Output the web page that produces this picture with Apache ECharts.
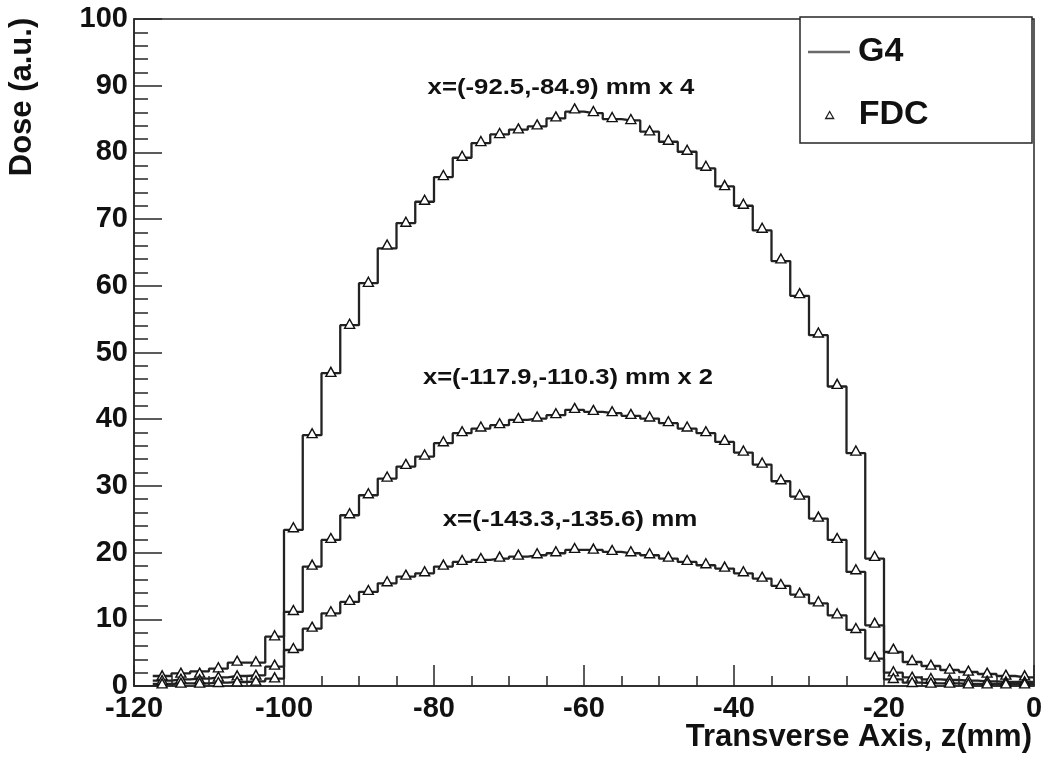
<!DOCTYPE html>
<html><head><meta charset="utf-8">
<script src="https://cdn.jsdelivr.net/npm/echarts@6/dist/echarts.min.js"></script>
<style>html,body{margin:0;padding:0;background:#fff}#c{width:1050px;height:761px}</style>
</head><body><div id="c"></div>
<script>
// bin centres (mm), bin width 2.5 mm
const zCenters = [-116.25,-113.75,-111.25,-108.75,-106.25,-103.75,-101.25,
  -98.75,-96.25,-93.75,-91.25,-88.75,-86.25,-83.75,-81.25,-78.75,-76.25,-73.75,-71.25,-68.75,-66.25,-63.75,-61.25,
  -58.75,-56.25,-53.75,-51.25,-48.75,-46.25,-43.75,-41.25,-38.75,-36.25,-33.75,-31.25,-28.75,-26.25,-23.75,-21.25,
  -18.75,-16.25,-13.75,-11.25,-8.75,-6.25,-3.75,-1.25];
const binWidth = 2.5;

// G4 (histogram lines)
const g4Top = [1.5,1.9,2.2,2.6,3.5,3.5,7.4,
  23.4,37.6,46.9,54.1,60.4,65.6,69.4,72.6,76.3,79.2,81.4,82.7,83.4,83.9,85.1,86.1,
  85.9,85.0,84.8,83.1,81.6,80.1,77.6,74.9,72.0,68.3,63.7,58.5,52.6,44.9,34.9,19.1,
  5.1,3.6,3.0,2.4,2.1,1.8,1.5,1.3];
const g4Mid = [0.8,1.0,1.1,1.3,1.5,1.6,2.9,
  11.1,17.9,21.9,25.6,28.6,31.1,32.9,34.4,36.4,37.9,38.6,39.1,39.9,40.1,40.6,41.4,
  41.1,40.9,40.5,40.1,39.4,38.6,37.9,36.6,35.0,33.2,30.7,28.4,25.1,21.9,17.1,9.1,
  2.0,1.3,1.0,0.9,0.8,0.7,0.6,0.6];
const g4Low = [0.3,0.4,0.4,0.5,0.6,0.7,1.1,
  5.4,8.6,10.9,12.6,14.1,15.4,16.4,16.9,17.9,18.6,18.9,19.1,19.4,19.6,19.9,20.4,
  20.4,20.1,19.9,19.6,19.1,18.6,18.1,17.6,16.9,16.1,15.0,13.7,12.4,10.6,8.4,4.1,
  1.0,0.5,0.4,0.4,0.3,0.3,0.3,0.3];

// FDC (open triangles)
const fdcTop = [1.6,2.0,2.0,2.8,3.8,3.7,7.6,
  23.8,37.9,47.1,54.3,60.6,66.2,69.6,72.9,76.6,79.5,81.7,82.9,83.6,84.2,85.4,86.6,
  86.2,85.3,85.0,83.3,81.9,80.4,78.0,75.1,72.3,68.7,64.1,58.9,53.0,45.3,35.3,19.5,
  5.6,3.9,3.2,2.6,2.3,2.0,1.7,1.6];
const fdcMid = [0.9,1.1,1.0,1.4,1.6,1.7,3.2,
  11.4,18.2,22.2,25.9,28.9,31.4,33.3,34.7,36.7,38.2,38.9,39.4,40.2,40.4,40.9,41.7,
  41.4,41.2,40.8,40.4,39.7,38.9,38.2,36.9,35.3,33.5,31.0,28.7,25.4,22.2,17.5,9.5,
  2.2,1.4,1.2,1.0,0.9,0.8,0.7,0.7];
const fdcLow = [0.4,0.5,0.5,0.6,0.7,0.8,1.3,
  5.7,8.9,11.2,12.9,14.4,15.7,16.7,17.2,18.2,18.9,19.2,19.4,19.7,19.9,20.2,20.7,
  20.6,20.4,20.2,19.9,19.4,18.9,18.4,17.9,17.2,16.4,15.3,14.0,12.7,10.9,8.7,4.4,
  1.2,0.6,0.5,0.5,0.4,0.4,0.4,0.4];

const curveLabels = ['x=(-92.5,-84.9) mm x 4', 'x=(-117.9,-110.3) mm x 2', 'x=(-143.3,-135.6) mm'];
const xTitle = 'Transverse Axis, z(mm)';
const yTitle = 'Dose (a.u.)';

const FONT = '"Liberation Sans", Arial, Helvetica, sans-serif';
const INK = '#262626';

function histPoints(vals) {
  const pts = [[zCenters[0] - binWidth / 2, vals[0]]];
  zCenters.forEach((z, i) => pts.push([z, vals[i]]));
  pts.push([zCenters[zCenters.length - 1] + binWidth / 2, vals[vals.length - 1]]);
  return pts;
}
function markerPoints(vals) { return zCenters.map((z, i) => [z, vals[i]]); }

const lineSeries = [g4Top, g4Mid, g4Low].map(v => ({
  name: 'G4', type: 'line', step: 'middle', symbol: 'none', data: histPoints(v),
  lineStyle: { color: '#222', width: 2.3 }, itemStyle: { color: '#666' }, z: 2, animation: false
}));
const markSeries = [fdcTop, fdcMid, fdcLow].map(v => ({
  name: 'FDC', type: 'scatter', symbol: 'triangle', symbolSize: [10, 9], data: markerPoints(v),
  itemStyle: { color: '#fff', borderColor: '#111', borderWidth: 1.4, opacity: 1 }, z: 3, animation: false
}));

const labelFont = 'bold 22px ' + FONT;
const chart = echarts.init(document.getElementById('c'), null, { renderer: 'canvas' });
chart.setOption({
  backgroundColor: '#fff',
  animation: false,
  grid: { left: 134, right: 16, top: 19, bottom: 75, show: true, borderColor: INK, borderWidth: 1.5, backgroundColor: 'transparent' },
  xAxis: {
    type: 'value', min: -120, max: 0, interval: 20,
    axisLine: { onZero: false, lineStyle: { color: INK, width: 1.5 } },
    axisTick: { inside: true, length: 21, lineStyle: { color: INK, width: 1.5 } },
    minorTick: { show: true, splitNumber: 4, length: 10, lineStyle: { color: INK, width: 1.5 } },
    splitLine: { show: false },
    axisLabel: { fontSize: 29, fontWeight: 'bold', color: '#111', fontFamily: FONT, margin: 8 }
  },
  yAxis: {
    type: 'value', min: 0, max: 100, interval: 10,
    axisLine: { onZero: false, lineStyle: { color: INK, width: 1.5 } },
    axisTick: { inside: true, length: 28, lineStyle: { color: INK, width: 1.5 } },
    minorTick: { show: true, splitNumber: 5, length: 14, lineStyle: { color: INK, width: 1.5 } },
    splitLine: { show: false },
    axisLabel: { fontSize: 29, fontWeight: 'bold', color: '#111', fontFamily: FONT, margin: 6 }
  },
  legend: [
    {
      data: [{ name: 'G4', icon: 'rect', itemStyle: { color: '#6a6a6a', borderWidth: 0 } }],
      left: 808, top: 35, padding: 0, z: 10,
      itemWidth: 42, itemHeight: 2.5,
      textStyle: { fontSize: 34, fontWeight: 'bold', color: '#111', fontFamily: FONT, padding: [0, 0, 0, 3] },
      selectedMode: false
    },
    {
      data: [{ name: 'FDC', icon: 'triangle', itemStyle: { color: '#fff', borderColor: '#222', borderWidth: 1.3 } }],
      left: 825, top: 98, padding: 0, z: 10,
      itemWidth: 8, itemHeight: 7,
      textStyle: { fontSize: 34, fontWeight: 'bold', color: '#111', fontFamily: FONT, padding: [0, 0, 0, 20] },
      selectedMode: false
    }
  ],
  graphic: [
    { type: 'rect', z: 5, shape: { x: 800, y: 17, width: 232, height: 126 }, style: { fill: '#fff', stroke: INK, lineWidth: 1.5 } },
    { type: 'text', x: 561, y: 88, scaleX: 1.17, style: { text: curveLabels[0], font: labelFont, fill: '#111', textAlign: 'center', textVerticalAlign: 'middle' } },
    { type: 'text', x: 568, y: 378, scaleX: 1.16, style: { text: curveLabels[1], font: labelFont, fill: '#111', textAlign: 'center', textVerticalAlign: 'middle' } },
    { type: 'text', x: 570, y: 520, scaleX: 1.18, style: { text: curveLabels[2], font: labelFont, fill: '#111', textAlign: 'center', textVerticalAlign: 'middle' } },
    { type: 'text', x: 1032, y: 737, style: { text: xTitle, font: 'bold 31px ' + FONT, fill: '#111', textAlign: 'right', textVerticalAlign: 'middle' } },
    { type: 'text', x: 22, y: 97, rotation: Math.PI / 2, style: { text: yTitle, font: 'bold 31px ' + FONT, fill: '#111', textAlign: 'center', textVerticalAlign: 'middle' } }
  ],
  series: lineSeries.concat(markSeries)
});
</script>
</body></html>
